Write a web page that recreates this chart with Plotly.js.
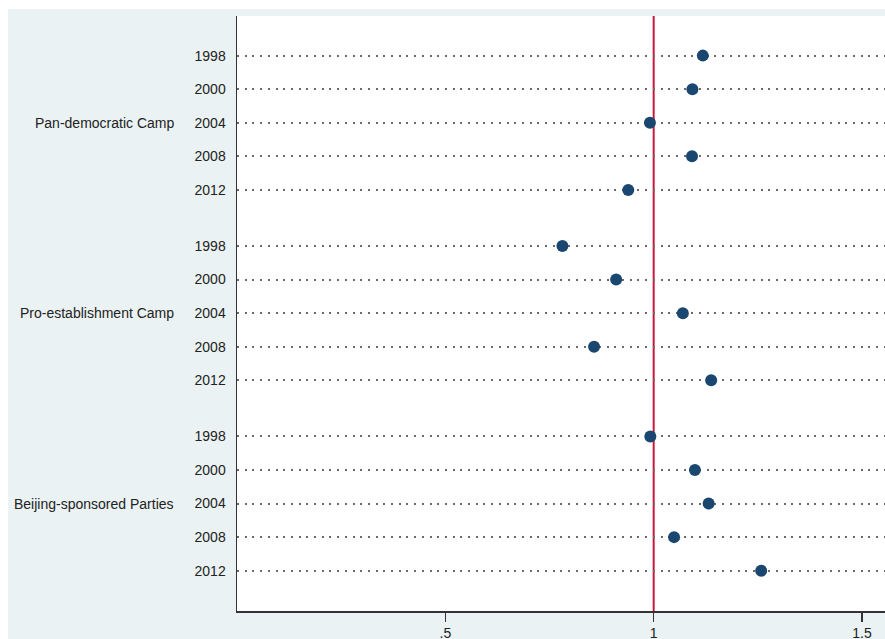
<!DOCTYPE html>
<html>
<head>
<meta charset="utf-8">
<script src="https://cdn.plot.ly/plotly-3.0.1.min.js"></script>
<style>html,body{margin:0;padding:0;background:#fff;}#chart{width:885px;height:639px;}</style>
</head>
<body>
<div id="chart"></div>
<script>
var groups = ["Pan-democratic Camp", "Pro-establishment Camp", "Beijing-sponsored Parties"];
var years = ["1998", "2000", "2004", "2008", "2012"];
var panDemocratic = [1.118, 1.093, 0.991, 1.092, 0.939];
var proEstablishment = [0.781, 0.910, 1.070, 0.857, 1.138];
var beijingSponsored = [0.992, 1.099, 1.132, 1.049, 1.258];
var xTickVals = [0.5, 1, 1.5];
var xTickText = [".5", "1", "1.5"];
var referenceValue = 1;

var seriesByGroup = [panDemocratic, proEstablishment, beijingSponsored];
var groupStep = 5.67;

var xs = [], ys = [], tickVals = [], tickText = [], annotations = [];
seriesByGroup.forEach(function (vals, g) {
  vals.forEach(function (v, i) {
    var pos = g * groupStep + i;
    xs.push(v);
    ys.push(pos);
    tickVals.push(pos);
    tickText.push(years[i]);
  });
  annotations.push({
    text: groups[g], xref: "paper", yref: "y",
    x: -0.0941, y: g * groupStep + 2, xanchor: "right", yanchor: "middle",
    showarrow: false, font: {family: "Liberation Sans, Arial, sans-serif", size: 14, color: "#222"}
  });
});

var trace = {
  type: "scatter", mode: "markers", x: xs, y: ys,
  marker: {color: "#1a476f", size: 12, line: {width: 0}},
  hoverinfo: "x+y", cliponaxis: false
};

var layout = {
  width: 885, height: 639,
  margin: {l: 237, r: 0, t: 16, b: 28, pad: 0},
  paper_bgcolor: "#eaf2f3",
  plot_bgcolor: "#ffffff",
  showlegend: false,
  font: {family: "Liberation Sans, Arial, sans-serif", size: 14, color: "#222"},
  xaxis: {
    range: [0, 1.5552], tickvals: xTickVals, ticktext: xTickText,
    showgrid: false, zeroline: false, showline: true, linecolor: "#333", linewidth: 1.5,
    ticks: "outside", ticklen: 9, tickwidth: 1.5, tickcolor: "#333",
    tickfont: {size: 14, color: "#222"}
  },
  yaxis: {
    range: [16.54, -1.18], tickvals: tickVals, ticktext: tickText,
    showgrid: true, gridcolor: "#6a6a6a", gridwidth: 2, griddash: "2px,5.7px",
    zeroline: false, showline: true, linecolor: "#333", linewidth: 1.5,
    ticks: "outside", ticklen: 7, tickcolor: "rgba(0,0,0,0)",
    tickfont: {size: 14, color: "#222"}
  },
  annotations: annotations,
  shapes: [
    {type: "line", xref: "x", yref: "paper", x0: referenceValue, x1: referenceValue, y0: 0, y1: 1,
     line: {color: "#c8193c", width: 2}, layer: "between"},
    {type: "rect", xref: "paper", yref: "paper", x0: -0.4, x1: 1.1, y0: 1.0118, y1: 1.05,
     fillcolor: "#ffffff", line: {width: 0}, layer: "below"},
    {type: "rect", xref: "paper", yref: "paper", x0: -0.4, x1: -0.3534, y0: -0.1, y1: 1.05,
     fillcolor: "#ffffff", line: {width: 0}, layer: "below"}
  ]
};

Plotly.newPlot("chart", [trace], layout, {displayModeBar: false, staticPlot: true});
</script>
</body>
</html>
